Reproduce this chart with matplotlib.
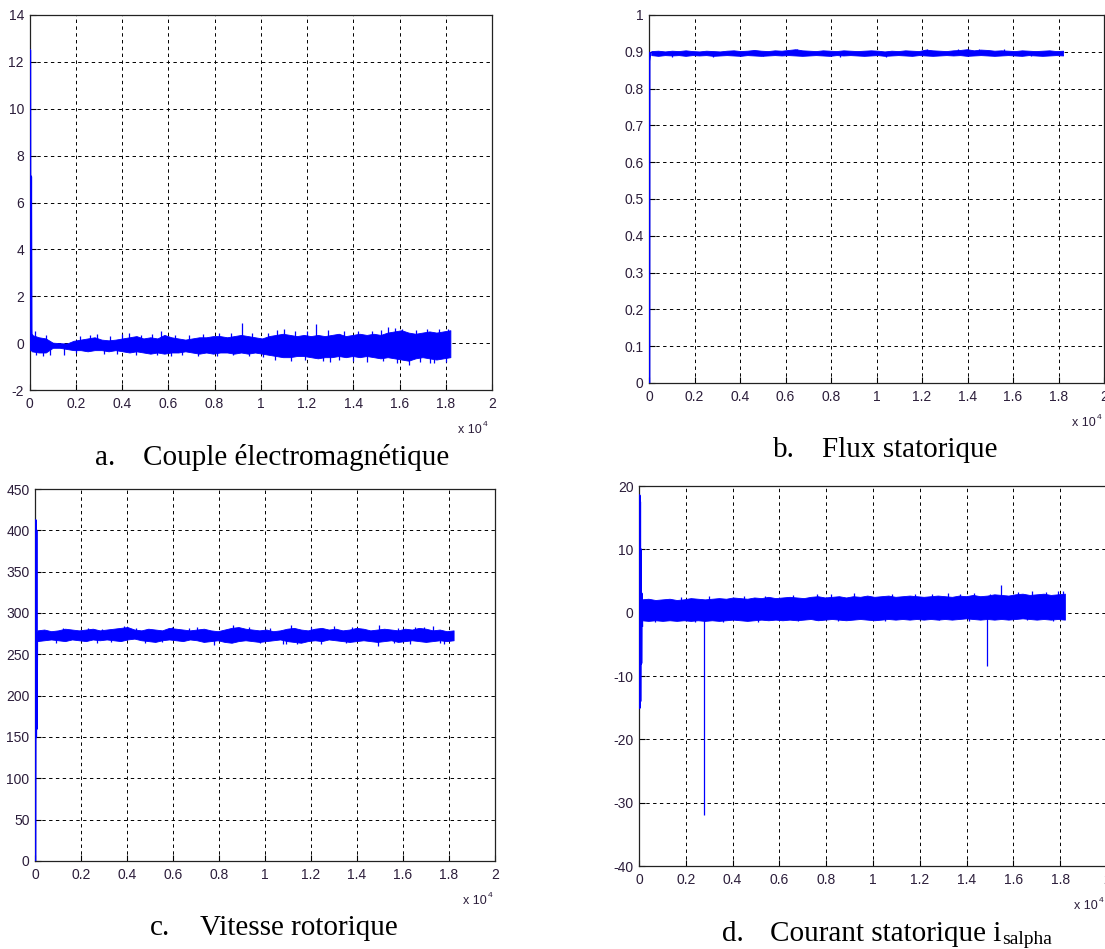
import numpy as np
import matplotlib
matplotlib.use("Agg")
import matplotlib.pyplot as plt

W, H = 1105, 949
BLUE = "#0000ff"
TXT = "#2b1d3a"

# ---------------- data ----------------
X_TICKS = [0, 2000, 4000, 6000, 8000, 10000, 12000, 14000, 16000, 18000, 20000]
X_TICK_LABELS = ["0", "0.2", "0.4", "0.6", "0.8", "1", "1.2", "1.4", "1.6", "1.8", "2"]
BAND_START, BAND_END = 100, 18200

# a. Couple électromagnétique
a_trans_x = [0, 10, 30, 52, 70, 90, 100]
a_trans_y = [0, 12.5, -0.2, 7.1, 0.6, -0.3, 0.3]
a_upper = [0.35, 0.25, 0.20, 0.02, 0.00, -0.02, 0.10, 0.15, 0.20, 0.25,
           0.15, 0.12, 0.15, 0.20, 0.25, 0.30, 0.20, 0.25, 0.20, 0.35,
           0.25, 0.20, 0.15, 0.20, 0.25, 0.25, 0.30, 0.30, 0.25, 0.30,
           0.35, 0.30, 0.25, 0.20, 0.30, 0.35, 0.40, 0.35, 0.30, 0.35,
           0.30, 0.35, 0.30, 0.35, 0.40, 0.30, 0.35, 0.40, 0.35, 0.40,
           0.35, 0.45, 0.50, 0.55, 0.45, 0.40, 0.45, 0.50, 0.45, 0.50,
           0.55]
a_lower = [-0.35, -0.40, -0.40, -0.20, -0.20, -0.25, -0.30, -0.30, -0.35, -0.30,
           -0.30, -0.35, -0.30, -0.35, -0.40, -0.35, -0.40, -0.45, -0.40, -0.45,
           -0.40, -0.40, -0.35, -0.40, -0.45, -0.40, -0.45, -0.40, -0.40, -0.45,
           -0.40, -0.45, -0.40, -0.45, -0.50, -0.55, -0.60, -0.60, -0.55, -0.55,
           -0.60, -0.65, -0.60, -0.60, -0.55, -0.60, -0.55, -0.60, -0.55, -0.60,
           -0.65, -0.60, -0.65, -0.70, -0.75, -0.65, -0.60, -0.65, -0.70, -0.65,
           -0.60]
a_spike_x = [250, 600, 1500, 2900, 4300, 5700, 9200, 11000, 12400, 13000, 15500, 16400, 17500, 18100,
             700, 2200, 2600, 3500, 4000, 4800, 5300, 6300, 6900, 7500, 8200, 8700, 9600, 10300,
             10700, 11500, 12000, 12900, 13600, 14200, 14800, 15200, 15800, 16100, 16700, 17200, 17700,
             300, 900, 2000, 3200, 3800, 4600, 5500, 6100, 6600, 7300, 8100, 8800, 9500, 10100,
             10600, 11300, 11900, 12700, 13400, 14000, 14600, 15300, 15900, 16900, 17300, 18000]
a_spike_y = [0.50, -0.55, -0.50, 0.40, 0.45, 0.50, 0.85, 0.60, 0.82, -0.80, 0.70, -0.95, -0.85, 0.60,
             0.35, 0.30, 0.35, 0.30, 0.40, 0.35, 0.40, 0.35, 0.35, 0.40, 0.45, 0.45, 0.45, 0.45,
             0.55, 0.50, 0.50, 0.55, 0.50, 0.50, 0.50, 0.55, 0.65, 0.60, 0.55, 0.60, 0.60,
             -0.50, -0.50, -0.40, -0.45, -0.45, -0.50, -0.50, -0.55, -0.50, -0.55, -0.55, -0.50, -0.55, -0.60,
             -0.70, -0.75, -0.70, -0.75, -0.70, -0.75, -0.80, -0.75, -0.85, -0.80, -0.85, -0.80]

# b. Flux statorique
b_trans_x = [0, 5, 40]
b_trans_y = [0, 0.875, 0.896]
b_upper = [0.902, 0.903, 0.901, 0.903, 0.902, 0.904, 0.902, 0.901, 0.903, 0.902,
           0.901, 0.903, 0.904, 0.902, 0.903, 0.905, 0.903, 0.902, 0.904, 0.903,
           0.905, 0.907, 0.904, 0.903, 0.902, 0.904, 0.903, 0.902, 0.904, 0.903,
           0.902, 0.903, 0.904, 0.903, 0.901, 0.903, 0.902, 0.904, 0.903, 0.902,
           0.906, 0.904, 0.903, 0.902, 0.904, 0.905, 0.907, 0.904, 0.906, 0.905,
           0.903, 0.904, 0.903, 0.902, 0.904, 0.903, 0.902, 0.903, 0.904, 0.902,
           0.903]
b_lower = [0.891, 0.889, 0.891, 0.890, 0.891, 0.889, 0.891, 0.890, 0.891, 0.889,
           0.890, 0.891, 0.890, 0.889, 0.891, 0.890, 0.889, 0.890, 0.891, 0.890,
           0.891, 0.890, 0.889, 0.890, 0.891, 0.890, 0.889, 0.891, 0.890, 0.891,
           0.890, 0.889, 0.890, 0.891, 0.889, 0.890, 0.891, 0.890, 0.889, 0.891,
           0.890, 0.889, 0.890, 0.891, 0.890, 0.891, 0.889, 0.890, 0.891, 0.890,
           0.889, 0.890, 0.891, 0.890, 0.889, 0.891, 0.890, 0.889, 0.890, 0.891,
           0.890]
b_spike_x = [6500, 12200, 13600, 14500, 15600, 1000, 2800, 5000, 8400, 10400, 16800]
b_spike_y = [0.908, 0.908, 0.907, 0.907, 0.907, 0.887, 0.887, 0.888, 0.887, 0.887, 0.888]

# c. Vitesse rotorique
c_trans_x = [0, 20, 30, 45, 60, 75, 90]
c_trans_y = [0, 412, 150, 400, 160, 265, 275]
c_upper = [279, 280, 278, 279, 281, 280, 279, 280, 281, 279,
           280, 281, 282, 283, 280, 279, 281, 280, 279, 282,
           281, 280, 279, 280, 281, 279, 278, 280, 282, 283,
           281, 280, 279, 280, 278, 279, 281, 282, 280, 279,
           281, 282, 280, 281, 279, 280, 282, 281, 279, 280,
           281, 280, 279, 281, 280, 282, 281, 279, 280, 278,
           279]
c_lower = [266, 267, 268, 267, 266, 268, 267, 266, 268, 267,
           268, 267, 266, 268, 269, 267, 266, 265, 267, 268,
           267, 266, 268, 267, 265, 266, 267, 265, 264, 266,
           267, 266, 265, 266, 267, 268, 266, 265, 264, 266,
           267, 266, 268, 267, 266, 265, 266, 267, 266, 265,
           266, 267, 265, 266, 267, 266, 265, 266, 267, 266,
           267]
c_spike_x = [3850, 5950, 7050, 7800, 8600, 10800, 11150, 11400, 12450, 13000, 14900, 14950, 16500, 17300, 17800,
             1200, 2300, 2900, 4400, 6700, 9300, 10200, 12000, 13800, 15800, 16900,
             900, 2700, 3300, 4800, 5500, 9800, 10900, 13500, 15600, 16300, 17600]
c_spike_y = [284, 283, 283, 261, 286, 262, 286, 263, 262, 284, 260, 285, 283, 284, 263,
             282, 282, 281, 282, 282, 283, 282, 283, 283, 282, 283,
             264, 264, 265, 264, 265, 264, 263, 264, 264, 263, 264]

# d. Courant statorique i_salpha
d_trans_x = [0, 10, 20, 30, 40, 60, 80, 100, 120]
d_trans_y = [0, 18.5, -15, 17.5, -14, 10, -8, 3, -2]
d_upper = [2.1, 2.2, 2.0, 2.1, 2.2, 2.0, 2.1, 2.3, 2.2, 2.1,
           2.2, 2.3, 2.2, 2.4, 2.3, 2.2, 2.4, 2.3, 2.5, 2.3,
           2.4, 2.5, 2.4, 2.3, 2.5, 2.6, 2.4, 2.5, 2.6, 2.4,
           2.6, 2.5, 2.7, 2.5, 2.6, 2.7, 2.5, 2.6, 2.7, 2.6,
           2.5, 2.6, 2.7, 2.6, 2.5, 2.7, 2.6, 2.8, 2.6, 2.7,
           2.9, 2.8, 2.7, 2.9, 3.0, 2.8, 2.9, 3.0, 2.8, 2.9,
           3.0]
d_lower = [-1.2, -1.3, -1.2, -1.3, -1.2, -1.3, -1.2, -1.3, -1.2, -1.3,
           -1.2, -1.3, -1.2, -1.1, -1.2, -1.3, -1.2, -1.1, -1.2, -1.1,
           -1.2, -1.1, -1.2, -1.1, -1.0, -1.2, -1.1, -1.0, -1.1, -1.2,
           -1.1, -1.0, -1.1, -1.2, -1.1, -1.0, -1.1, -1.0, -1.1, -1.0,
           -1.1, -1.0, -1.1, -1.0, -1.1, -1.0, -0.9, -1.0, -1.1, -1.0,
           -1.1, -1.0, -1.1, -1.0, -0.9, -1.0, -1.1, -1.0, -1.1, -1.0,
           -1.1]
d_spike_x = [2760, 14890, 15460, 4500, 9200, 13700, 17900,
             1800, 3000, 5400, 6600, 7600, 8200, 10800, 11800, 12500, 13200, 14300, 15000, 16200, 16800, 17400, 18100,
             700, 2400, 3600, 5100, 6800, 8500, 10500, 12800, 14100, 16600, 17700]
d_spike_y = [-32.0, -8.4, 4.4, 2.7, 3.1, 3.0, 3.4,
             2.5, 2.6, 2.7, 2.8, 2.9, 2.9, 3.0, 3.0, 2.9, 3.1, 3.1, 3.0, 3.3, 3.4, 3.3, 3.5,
             -1.5, -1.4, -1.5, -1.4, -1.3, -1.3, -1.3, -1.2, -1.3, -1.2, -1.3]

# ---------------- drawing ----------------
plt.rcParams["font.family"] = ["Liberation Sans", "DejaVu Sans"]

fig = plt.figure(figsize=(W / 100, H / 100), dpi=100)


def add_axes(l, t, r, b):
    return fig.add_axes([l / W, 1 - b / H, (r - l) / W, (b - t) / H])


def style(ax, ylim, yticks):
    ax.set_xlim(0, 20000)
    ax.set_ylim(*ylim)
    ax.set_xticks(X_TICKS)
    ax.set_xticklabels(X_TICK_LABELS)
    ax.set_yticks(yticks)
    ax.set_yticklabels(["%g" % v for v in yticks])
    ax.tick_params(direction="in", length=4, width=0.8, labelsize=10,
                   labelcolor=TXT, colors="black")
    ax.tick_params(axis="x", pad=5)
    ax.tick_params(axis="y", pad=4)
    ax.grid(True, color="black", linewidth=0.7, linestyle=(0, (3.5, 3.5)))
    ax.set_axisbelow(True)
    for s in ax.spines.values():
        s.set_linewidth(0.9)
        s.set_color("#222222")


def draw(ax, tx, ty, up, lo, sx=None, sy=None, base=0.0):
    xb = np.linspace(BAND_START, BAND_END, len(up))
    ax.fill_between(xb, lo, up, color=BLUE, linewidth=0.6, edgecolor=BLUE, zorder=3)
    ax.plot(tx, ty, color=BLUE, linewidth=2.0, zorder=4)
    if sx is not None:
        ax.vlines(sx, base, sy, color=BLUE, linewidth=0.9, zorder=4)


def xlabel_mult(x, y):
    fig.text(x / W, 1 - y / H, "x 10", fontsize=9, color=TXT, ha="left", va="baseline")
    fig.text((x + 25) / W, 1 - (y - 7) / H, "4", fontsize=6, color=TXT, ha="left", va="baseline")


def caption(xl, xt, y, letter, body, sub=None):
    fig.text(xl / W, 1 - y / H, letter, fontsize=21, family="Liberation Serif",
             ha="left", va="baseline")
    t = fig.text(xt / W, 1 - y / H, body, fontsize=21, family="Liberation Serif",
                 ha="left", va="baseline")
    if sub:
        fig.canvas.draw()
        bb = t.get_window_extent()
        fig.text((bb.x1 + 1) / W, 1 - (y + 3) / H, sub, fontsize=14,
                 family="Liberation Serif", ha="left", va="baseline")


# a
ax_a = add_axes(29.5, 15, 492, 390)
style(ax_a, (-2, 14), list(range(-2, 15, 2)))
draw(ax_a, a_trans_x, a_trans_y, a_upper, a_lower, a_spike_x, a_spike_y, -0.05)

# b
ax_b = add_axes(649, 15, 1104, 383)
style(ax_b, (0, 1), [round(0.1 * i, 1) for i in range(11)])
draw(ax_b, b_trans_x, b_trans_y, b_upper, b_lower, b_spike_x, b_spike_y, 0.896)

# c
ax_c = add_axes(35, 489, 495, 861)
style(ax_c, (0, 450), list(range(0, 451, 50)))
draw(ax_c, c_trans_x, c_trans_y, c_upper, c_lower, c_spike_x, c_spike_y, 273)

# d
ax_d = add_axes(639, 486, 1107, 866)
style(ax_d, (-40, 20), list(range(-40, 21, 10)))
draw(ax_d, d_trans_x, d_trans_y, d_upper, d_lower, d_spike_x, d_spike_y, 0.5)

xlabel_mult(458, 433)
xlabel_mult(1072, 426)
xlabel_mult(463, 904)
xlabel_mult(1074, 909)

caption(95, 143, 465, "a.", "Couple électromagnétique")
caption(773, 822, 457, "b.", "Flux statorique")
caption(150, 200, 935, "c.", "Vitesse rotorique")
caption(722, 770, 941, "d.", "Courant statorique i", "salpha")

fig.savefig("out.png", dpi=100)
